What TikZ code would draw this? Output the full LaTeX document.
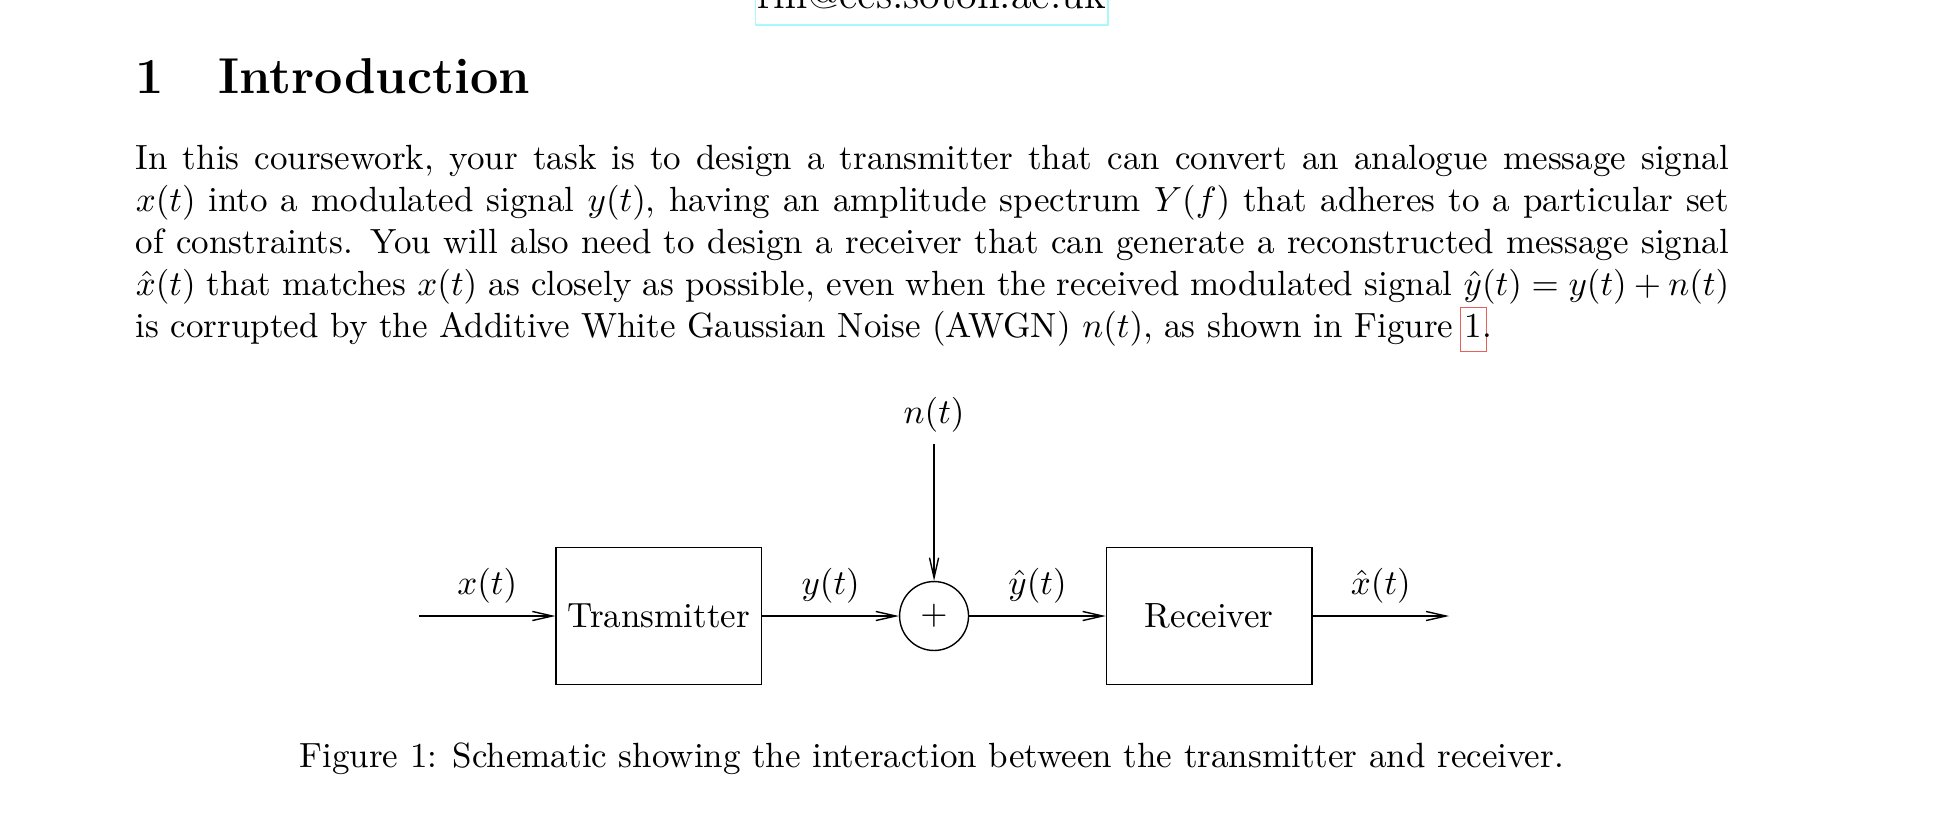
\documentclass[tikz,border=0pt]{standalone}
\usepackage{amsmath, amssymb}
\usepackage{tikz}
\usetikzlibrary{arrows.meta, positioning}
\usepackage{xcolor}
\definecolor{linkred}{HTML}{E8605A}
\definecolor{linkcyan}{HTML}{A8FAFA}

\newsavebox\refbox
\newcommand\reflink[1]{\sbox\refbox{#1}%
  \rlap{\kern-1.4pt\raisebox{-3.9pt}{\color{linkred}\setlength\fboxsep{0pt}\setlength\fboxrule{0.4pt}%
    \fbox{\rule{0pt}{12.1pt}\rule{\dimexpr\wd\refbox+2pt\relax}{0pt}}}}%
  \usebox\refbox}

\begin{document}
\begin{tikzpicture}[
    node distance=39pt,
    block/.style={draw, minimum width=58.7pt, minimum height=39.3pt},
    sumnode/.style={draw, circle, minimum size=19.7pt, inner sep=0pt},
    arr/.style={-{Straight Barb[length=5.7pt, width=2.6pt]}, line width=0.4pt},
    lbl/.style={midway, above}
]
\useasboundingbox (0,0) rectangle (560pt,-238.86pt);
\node (mail) [draw=linkcyan, anchor=base, text depth=0pt, inner xsep=0.5pt, inner ysep=4.8pt] at (266.2pt,-2.3pt) {\large rm@ecs.soton.ac.uk};
\node (heading) [anchor=base west, inner sep=0pt, font=\Large\bfseries] at (38.6pt,-26.6pt) {1\quad\kern1pt Introduction};
\node (para) [anchor=base west, inner sep=0pt, text width=455.24pt, align=justify] at (38.6pt,-48.3pt) {In this coursework, your task is to design a transmitter that can convert an analogue message signal\linebreak
$x(t)$ into a modulated signal $y(t)$, having an amplitude spectrum $Y(f)$ that adheres to a particular set\linebreak
of constraints. You will also need to design a receiver that can generate a reconstructed message signal\linebreak
$\hat{x}(t)$ that matches $x(t)$ as closely as possible, even when the received modulated signal $\hat{y}(t) = y(t) + n(t)$\linebreak
is corrupted by the Additive White Gaussian Noise (AWGN) $n(t)$, as shown in Figure~\reflink{1}.};

\coordinate (xin) at (119.7pt,-176pt);
\node (tx) [block, right=of xin] {Transmitter};
\node (sum) [sumnode, right=of tx] {$+$};
\node (rx) [block, right=of sum] {Receiver};
\coordinate [right=of rx] (xout);
\node (noise) [above=of sum] {$n(t)$};
\draw[arr] (xin) -- node[lbl] (xlbl) {$x(t)$} (tx);
\draw[arr] (tx) -- node[lbl] (ylbl) {$y(t)$} (sum);
\draw[arr] (sum) -- node[lbl] (yhatlbl) {$\hat{y}(t)$} (rx);
\draw[arr] (rx) -- node[lbl] (xhatlbl) {$\hat{x}(t)$} (xout);
\draw[arr] (noise) -- (sum);

\node (caption) [anchor=base] at (266.2pt,-219.3pt) {Figure 1: Schematic showing the interaction between the transmitter and receiver.};
\end{tikzpicture}
\end{document}
